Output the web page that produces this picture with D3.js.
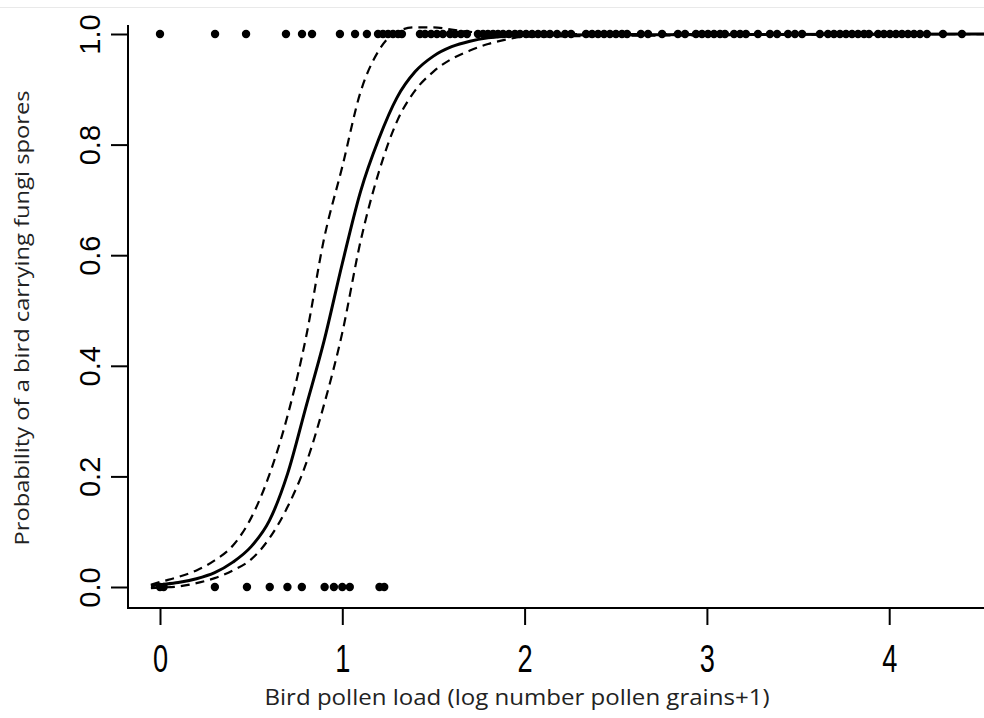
<!DOCTYPE html>
<html><head><meta charset="utf-8">
<script src="https://cdn.jsdelivr.net/npm/d3@7"></script>
<style>body{margin:0;background:#fff}svg{display:block}</style></head>
<body><svg id="c" width="984" height="718"></svg>
<script>
const xTicks = [0, 1, 2, 3, 4];
const yTicks = [0, 0.2, 0.4, 0.6, 0.8, 1.0];
const xLabel = "Bird pollen load (log number pollen grains+1)";
const yLabel = "Probability of a bird carrying fungi spores";

// observed birds carrying spores (y = 1)
const presentX = [0, 0.302, 0.472, 0.691, 0.779, 0.834, 0.987, 1.070, 1.135, 1.196, 1.223, 1.251, 1.278, 1.306, 1.327,
  1.426, 1.454, 1.487, 1.519, 1.552, 1.591, 1.618, 1.651, 1.684, 1.744, 1.772, 1.799, 1.827, 1.854, 1.882, 1.914, 1.947,
  1.975, 2.008, 2.041, 2.074, 2.106, 2.139, 2.178, 2.222, 2.255, 2.337, 2.370, 2.403, 2.436, 2.468, 2.501, 2.534, 2.562,
  2.638, 2.677, 2.754, 2.841, 2.880, 2.940, 2.973, 3.006, 3.039, 3.072, 3.099, 3.149, 3.182, 3.214, 3.280, 3.346, 3.385,
  3.445, 3.483, 3.522, 3.620, 3.664, 3.697, 3.730, 3.763, 3.796, 3.829, 3.862, 3.889, 3.939, 3.971, 4.004, 4.037, 4.070,
  4.103, 4.136, 4.169, 4.207, 4.295, 4.399];
// observed birds without spores (y = 0)
const absentX = [0, 0.02, 0.301, 0.477, 0.602, 0.699, 0.778, 0.903, 0.954, 1.0, 1.041, 1.204, 1.230];

// fitted curve and confidence band
const curveX = [-0.05, 0, 0.1, 0.2, 0.3, 0.4, 0.5, 0.6, 0.7, 0.8, 0.9, 1.0, 1.1, 1.2, 1.3, 1.4, 1.5, 1.6, 1.7, 1.8, 1.9, 2.0, 4.7];
const fitY   = [0.002, 0.004, 0.008, 0.015, 0.026, 0.045, 0.073, 0.12, 0.205, 0.325, 0.445, 0.585, 0.715, 0.81, 0.885, 0.932, 0.96, 0.977, 0.987, 0.993, 0.996, 0.998, 1.0];
const upperY = [0.004, 0.009, 0.018, 0.03, 0.048, 0.075, 0.125, 0.203, 0.31, 0.45, 0.63, 0.76, 0.895, 0.97, 1.004, 1.012, 1.012, 1.008, 1.004, 1.001, 1.0, 1.0, 1.0];
const lowerY = [-0.002, -0.001, 0.001, 0.007, 0.016, 0.03, 0.05, 0.088, 0.145, 0.222, 0.33, 0.46, 0.625, 0.75, 0.842, 0.898, 0.932, 0.955, 0.97, 0.982, 0.99, 0.995, 1.0];

const svg = d3.select("#c");
const x = d3.scaleLinear().domain([0, 4]).range([160, 889.2]);
const y = d3.scaleLinear().domain([0, 1]).range([587, 34]);
const frameLeft = 128, frameBottom = 608, frameTop = 25;

// faint top border line
svg.append("line").attr("x1", 0).attr("x2", 984).attr("y1", 7.5).attr("y2", 7.5)
  .attr("stroke", "#e9e9e9").attr("stroke-width", 1);

svg.append("clipPath").attr("id", "pc").append("rect")
  .attr("x", frameLeft).attr("y", 0).attr("width", 984 - frameLeft).attr("height", frameBottom);
const g = svg.append("g").attr("clip-path", "url(#pc)");

const line = d3.line().x((d, i) => x(curveX[i])).y(d => y(d)).curve(d3.curveMonotoneX);
g.append("path").attr("d", line(upperY)).attr("fill", "none").attr("stroke", "#000")
  .attr("stroke-width", 2.2).attr("stroke-dasharray", "9,6");
g.append("path").attr("d", line(lowerY)).attr("fill", "none").attr("stroke", "#000")
  .attr("stroke-width", 2.2).attr("stroke-dasharray", "9,6");
g.append("path").attr("d", line(fitY)).attr("fill", "none").attr("stroke", "#000")
  .attr("stroke-width", 3);

g.selectAll("circle.p").data(presentX).join("circle").attr("class", "p")
  .attr("cx", d => x(d)).attr("cy", y(1)).attr("r", 4.2).attr("fill", "#000");
g.selectAll("circle.a").data(absentX).join("circle").attr("class", "a")
  .attr("cx", d => x(d)).attr("cy", y(0)).attr("r", 4.2).attr("fill", "#000");

// frame (left and bottom; top/right are cropped)
svg.append("path").attr("d", `M${frameLeft},${frameTop}V${frameBottom}H984`).attr("fill", "none")
  .attr("stroke", "#000").attr("stroke-width", 2);

// x axis
const xa = svg.append("g").attr("transform", `translate(0,${frameBottom})`)
  .call(d3.axisBottom(x).tickValues(xTicks).tickSize(17).tickPadding(14).tickFormat(d3.format("d")));
xa.select(".domain").remove();
xa.selectAll("line").attr("stroke-width", 2);
xa.selectAll(".tick text").attr("font-family", "Liberation Sans, Arial, sans-serif").attr("font-size", 32)
  .attr("fill", "#000").attr("transform", "scale(0.85,1.2)");

// y axis
const ya = svg.append("g").attr("transform", `translate(${frameLeft},0)`)
  .call(d3.axisLeft(y).tickValues(yTicks).tickSize(17).tickFormat(d3.format(".1f")));
ya.select(".domain").remove();
ya.selectAll("line").attr("stroke-width", 2);
ya.selectAll(".tick text").attr("x", null).attr("dy", null)
  .attr("font-family", "Liberation Sans, Arial, sans-serif").attr("font-size", 29).attr("fill", "#000")
  .attr("text-anchor", "middle")
  .attr("transform", "translate(-39,0) rotate(-90) translate(0,11)");

// axis titles
svg.append("text").attr("x", 517).attr("y", 705).attr("text-anchor", "middle")
  .attr("font-family", "Open Sans, sans-serif").attr("font-size", 21).attr("fill", "#222")
  .attr("textLength", 505).attr("lengthAdjust", "spacingAndGlyphs").text(xLabel);
svg.append("text").attr("transform", "translate(29,318) rotate(-90)").attr("text-anchor", "middle")
  .attr("font-family", "Open Sans, sans-serif").attr("font-size", 20).attr("fill", "#222")
  .attr("textLength", 455).attr("lengthAdjust", "spacingAndGlyphs").text(yLabel);
</script></body></html>
